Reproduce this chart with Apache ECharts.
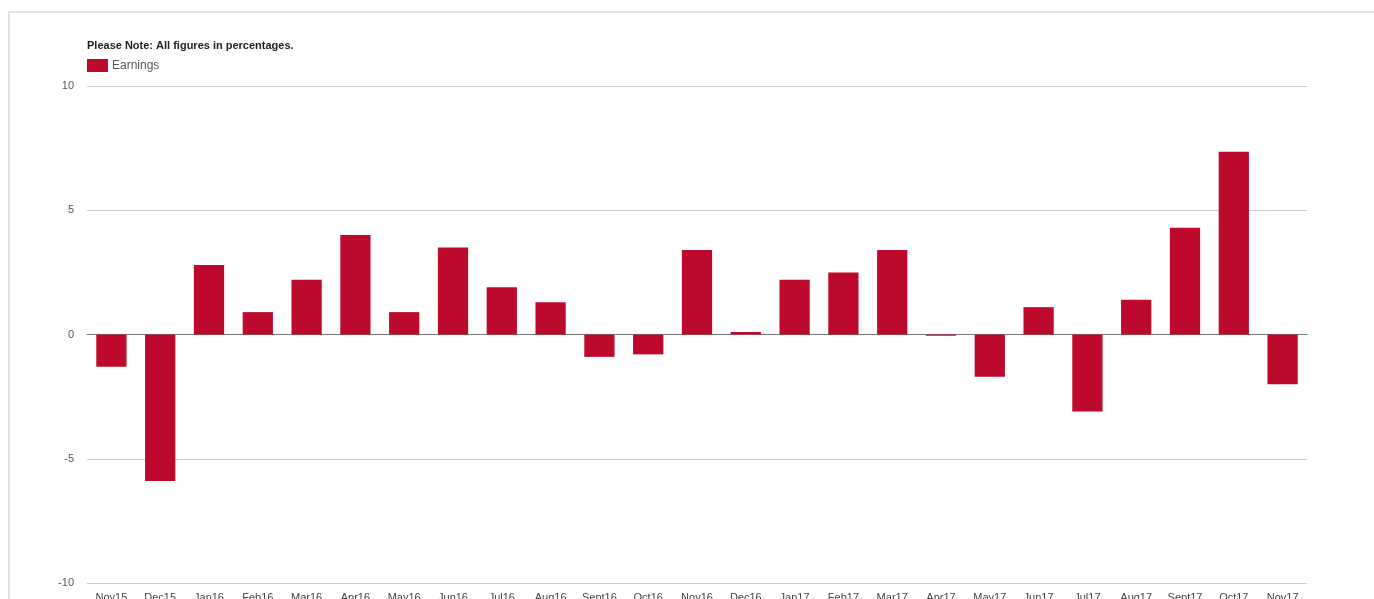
<!DOCTYPE html>
<html>
<head>
<meta charset="utf-8">
<script src="https://cdn.jsdelivr.net/npm/echarts@6/dist/echarts.min.js"></script>
<style>
  html, body { margin: 0; padding: 0; background: #fff; overflow: hidden; }
  #frame { position: absolute; left: 8px; top: 11px; width: 1400px; height: 640px;
           border-left: 2px solid #e2e2e2; border-top: 2px solid #e2e2e2; }
  #chart { position: absolute; left: 0; top: 0; width: 1374px; height: 599px; }
</style>
</head>
<body>
<div id="frame"></div>
<div id="chart"></div>
<script>
// Monthly earnings change, in percent
const months = ['Nov15','Dec15','Jan16','Feb16','Mar16','Apr16','May16','Jun16','Jul16','Aug16',
                'Sept16','Oct16','Nov16','Dec16','Jan17','Feb17','Mar17','Apr17','May17','Jun17',
                'Jul17','Aug17','Sept17','Oct17','Nov17'];
const earnings = [-1.3, -5.9, 2.8, 0.9, 2.2, 4.0, 0.9, 3.5, 1.9, 1.3,
                  -0.9, -0.8, 3.4, 0.1, 2.2, 2.5, 3.4, -0.05, -1.7, 1.1,
                  -3.1, 1.4, 4.3, 7.35, -2.0];
const yTicks = { min: -10, max: 10, step: 5 };

const chart = echarts.init(document.getElementById('chart'), null, { renderer: 'canvas' });
const fontFamily = 'Arial, "Liberation Sans", sans-serif';

chart.setOption({
  animation: false,
  textStyle: { fontFamily: fontFamily },
  title: {
    text: 'Please Note: All figures in percentages.',
    left: 82, top: 35,
    textStyle: { fontSize: 11, fontWeight: 'bold', color: '#222', fontFamily: fontFamily }
  },
  legend: {
    left: 82, top: 54,
    itemWidth: 21, itemHeight: 13, itemGap: 5,
    icon: 'rect',
    textStyle: { fontSize: 12, color: '#555', fontFamily: fontFamily, padding: [0, 0, 0, -1] },
    data: ['Earnings']
  },
  grid: { left: 87, right: 67, top: 86, bottom: 16, containLabel: false, outerBoundsMode: 'none' },
  xAxis: {
    type: 'category',
    data: months,
    axisLine: { show: true, onZero: true, lineStyle: { color: '#777', width: 1 } },
    axisTick: { show: false },
    axisLabel: { color: '#444', fontSize: 11, margin: 9, interval: 0, fontFamily: fontFamily }
  },
  yAxis: {
    type: 'value',
    min: yTicks.min, max: yTicks.max, interval: yTicks.step,
    axisLine: { show: false },
    axisTick: { show: false },
    splitLine: { lineStyle: { color: '#cccccc', width: 1 } },
    axisLabel: { color: '#555', fontSize: 11, margin: 13, fontFamily: fontFamily }
  },
  series: [{
    name: 'Earnings',
    type: 'bar',
    data: earnings,
    barWidth: '62%',
    itemStyle: { color: '#bd0a2c' }
  }]
});
</script>
</body>
</html>
